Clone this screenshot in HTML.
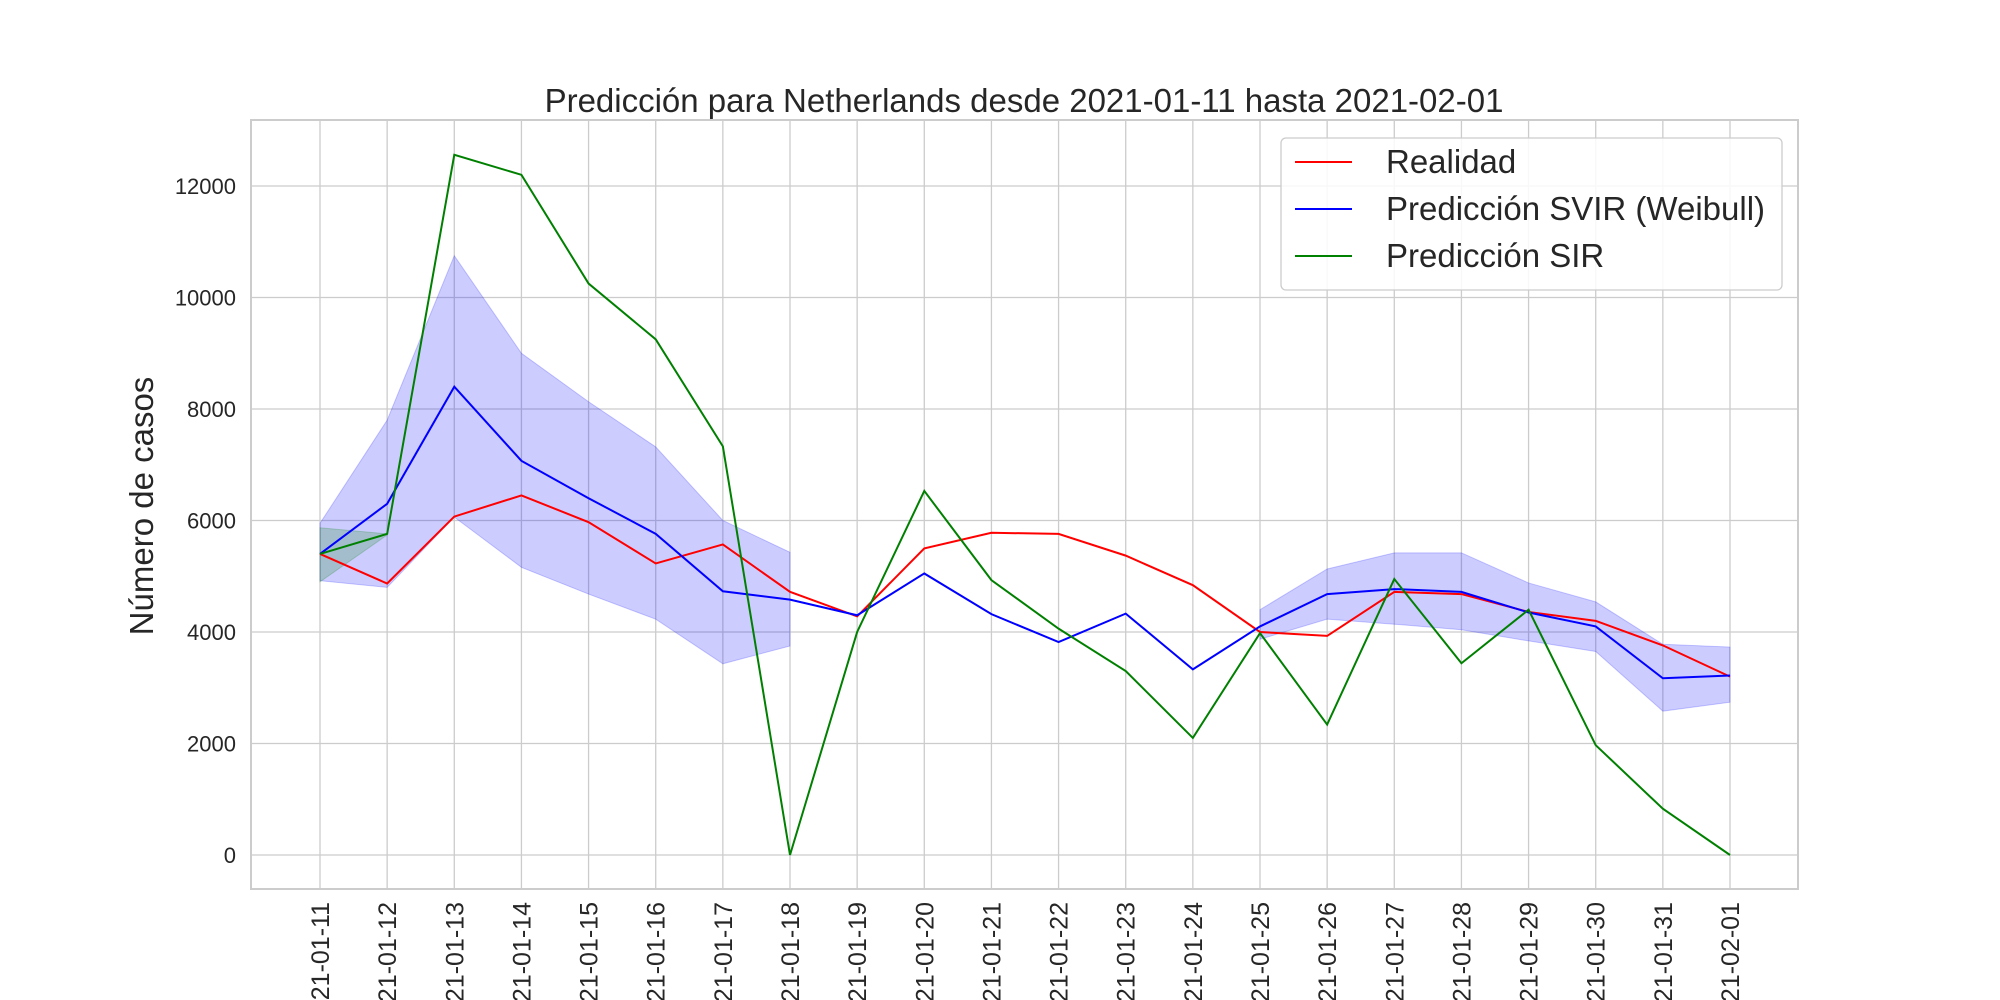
<!DOCTYPE html>
<html><head><meta charset="utf-8"><style>
body{margin:0;background:#fff;}
svg{display:block;font-family:"Liberation Sans",Arial,sans-serif;}
</style></head><body>
<svg id="chart" width="2000" height="1000" viewBox="0 0 2000 1000"></svg>
<script>
const categories=["2021-01-11","2021-01-12","2021-01-13","2021-01-14","2021-01-15","2021-01-16","2021-01-17","2021-01-18","2021-01-19","2021-01-20","2021-01-21","2021-01-22","2021-01-23","2021-01-24","2021-01-25","2021-01-26","2021-01-27","2021-01-28","2021-01-29","2021-01-30","2021-01-31","2021-02-01"];
const realidad=[5400,4870,6070,6450,5970,5230,5570,4720,4280,5500,5780,5760,5370,4840,4000,3930,4720,4680,4360,4200,3760,3200];
const svir=[5400,6300,8400,7070,6400,5760,4730,4580,4300,5050,4320,3820,4330,3330,4100,4680,4770,4720,4350,4100,3170,3220];
const svirUpper=[5950,7800,10750,9000,8130,7320,6000,5430,null,null,null,null,null,null,4400,5130,5420,5420,4880,4540,3780,3730];
const svirLower=[4920,4800,6060,5160,4680,4230,3430,3750,null,null,null,null,null,null,3870,4230,4140,4040,3840,3650,2580,2740];
const sir=[5400,5760,12560,12200,10250,9250,7330,0,4000,6530,4930,4060,3300,2100,3980,2340,4950,3440,4400,1970,830,0];
const sirUpper=[5870,5760];
const sirLower=[4900,5740];
const yTicks=[0,2000,4000,6000,8000,10000,12000];

const NS="http://www.w3.org/2000/svg";
const svg=document.getElementById('chart');
const L=251,R=1798,T=120,B=889;
const x0=320,dx=(1730-320)/21;
const X=i=>x0+i*dx;
const Y=v=>855-v*(855-186)/12000;
function mk(tag,attrs,parent){const e=document.createElementNS(NS,tag);for(const k in attrs)e.setAttribute(k,attrs[k]);(parent||svg).appendChild(e);return e;}

yTicks.forEach(v=>{
  const g=mk('line',{x1:L,x2:R,y1:Y(v),y2:Y(v),stroke:'#cccccc','stroke-width':1.3});
  
  
  const t=mk('text',{x:236,y:Y(v)+8,'text-anchor':'end','font-size':22,fill:'#262626'});
  t.textContent=v;
  
  
});
categories.forEach((c,i)=>{
  const g=mk('line',{x1:X(i),x2:X(i),y1:T,y2:B,stroke:'#cccccc','stroke-width':1.3});
  
  
  const t=mk('text',{x:0,y:0,'text-anchor':'end','font-size':25,fill:'#262626',transform:`translate(${X(i)+9},902) rotate(-90)`});
  t.textContent=c;
  
  
});
const frame=mk('rect',{x:L,y:T,width:R-L,height:B-T,fill:'none',stroke:'#cccccc','stroke-width':2});



function band(up,lo,idx,fill,name){
  const pts=[];idx.forEach(i=>pts.push(X(i)+','+Y(up[i])));
  idx.slice().reverse().forEach(i=>pts.push(X(i)+','+Y(lo[i])));
  const p=mk('polygon',{points:pts.join(' '),fill:fill,'fill-opacity':0.2,stroke:fill,'stroke-opacity':0.2});
  
  
}
const seg1=[],seg2=[];
svirUpper.forEach((v,i)=>{if(v!==null){(i<8?seg1:seg2).push(i);}});
band(svirUpper,svirLower,seg1,'#0000ff','svir-band-1');
band(svirUpper,svirLower,seg2,'#0000ff','svir-band-2');
band(sirUpper,sirLower,[0,1],'#008000','sir-band');

function line(arr,color,name){
  const p=mk('polyline',{points:arr.map((v,i)=>X(i)+','+Y(v)).join(' '),fill:'none',stroke:color,'stroke-width':2});
  
  
}
line(realidad,'#ff0000','realidad-line');
line(svir,'#0000ff','svir-line');
line(sir,'#008000','sir-line');

const title=mk('text',{x:1024,y:112,'text-anchor':'middle','font-size':33,fill:'#262626'});
title.textContent='Predicción para Netherlands desde 2021-01-11 hasta 2021-02-01';


const yl=mk('text',{x:0,y:0,'text-anchor':'middle','font-size':33,fill:'#262626',transform:'translate(153,506) rotate(-90)'});
yl.textContent='Número de casos';



const lg=mk('g',{});


mk('rect',{x:1281,y:138,width:501,height:152,rx:5,fill:'#ffffff','fill-opacity':0.85,stroke:'#cccccc','stroke-width':1.3},lg);
const entries=[['Realidad','#ff0000'],['Predicción SVIR (Weibull)','#0000ff'],['Predicción SIR','#008000']];
entries.forEach((e,i)=>{
  const yy=162+i*47;
  const g=mk('g',{},lg);
  
  
  mk('line',{x1:1295,x2:1352,y1:yy,y2:yy,stroke:e[1],'stroke-width':2},g);
  const t=mk('text',{x:1386,y:yy+11,'font-size':33,fill:'#262626'},g);
  t.textContent=e[0];
});
</script>
</body></html>
